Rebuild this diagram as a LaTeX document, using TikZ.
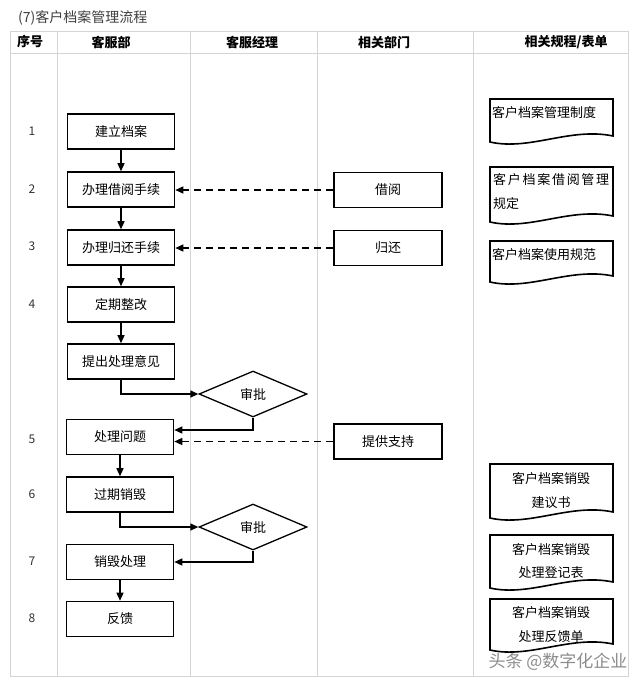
\documentclass[tikz,border=0pt]{standalone}
\usepackage{fontspec}
\setmainfont{Noto Sans CJK SC}
\usetikzlibrary{arrows.meta,shapes.geometric}

% document symbol of the flow chart: top y, lower left y
\newcommand\docsheet[2]{%
  \draw[sheet] (490,#1) -- (613,#1) -- (613,#2-6)
     .. controls (570,#2-15) and (530,#2+9) .. (490,#2) -- cycle;}

\begin{document}
\begin{tikzpicture}[x=1pt,y=-1pt,
   every node/.style={font=\fontsize{13}{16}\selectfont,inner sep=0pt},
   grid line/.style={draw=black!17,line width=0.9pt},
   head/.style={font=\fontsize{13}{16}\selectfont\bfseries},
   rownum/.style={font=\fontsize{12}{14}\selectfont,text=black!80},
   task/.style={draw,line width=1.6pt,minimum width=107pt,minimum height=35pt},
   check/.style={draw,diamond,aspect=2.35,line width=1.3pt,
      minimum width=108pt,minimum height=46pt},
   flow/.style={line width=1.3pt,-{Triangle[length=8pt,width=7pt]}},
   ask/.style={flow,dash pattern=on 7pt off 5pt},
   sheet/.style={line width=1.6pt},
   sheettext/.style={align=center,font=\fontsize{13}{24}\selectfont}]
\fill[white] (0,0) rectangle (640,686);
\useasboundingbox (0,0) rectangle (640,686);

\node[anchor=west,font=\fontsize{14}{16}\selectfont,text=black!75] (title) at (18,18) {(7)客户档案管理流程};

% table
\draw[grid line] (10,31) rectangle (628,676);
\draw[grid line] (10,53) -- (628,53);
\foreach \x in {57,190,317,473}
  \draw[grid line] (\x,31) -- (\x,676);

\node[head] (hno) at (30,42) {序号};
\node[head] (hcs) at (111,42) {客服部};
\node[head] (hmgr) at (252,42) {客服经理};
\node[head] (hdept) at (384,42) {相关部门};
\node[head] (hdoc) at (566,42) {相关规程/表单};

\foreach \n/\y in {1/131,2/189,3/246,4/304,5/439,6/494,7/561,8/618}
  \node[rownum] (n\n) at (32,\y) {\n};

% customer service
\node[task] (open) at (121,131.5) {建立档案};
\node[task] (lend) at (121,189.5) {办理借阅手续};
\node[task] (back) at (121,247.5) {办理归还手续};
\node[task] (fix) at (121,304.5) {定期整改};
\node[task] (idea) at (121,361.5) {提出处理意见};
\node[task] (solve) at (120,437) {处理问题};
\node[task] (expire) at (120,494.5) {过期销毁};
\node[task] (destroy) at (120,562) {销毁处理};
\node[task] (feedback) at (120,619) {反馈};

% manager
\node[check] (ok1) at (253,394) {审批};
\node[check] (ok2) at (253,527) {审批};

% other departments
\node[task,minimum width=108pt] (borrow) at (388,190) {借阅};
\node[task,minimum width=108pt] (return) at (388,248) {归还};
\node[task,minimum width=108pt] (support) at (388,441.5) {提供支持};

\draw[flow] (open) -- (lend);
\draw[flow] (lend) -- (back);
\draw[flow] (back) -- (fix);
\draw[flow] (fix) -- (idea);
\draw[flow] (idea.south) |- (ok1.west);
\draw[flow] (ok1.south) |- ([yshift=7pt]solve.east);
\draw[flow] (solve) -- (expire);
\draw[flow] (expire.south) |- (ok2.west);
\draw[flow] (ok2.south) |- (destroy.east);
\draw[flow] (destroy) -- (feedback);
\draw[ask] (borrow.west) -- (borrow.west -| lend.east);
\draw[ask] (return.west) -- (return.west -| back.east);
\draw[ask] (support.west) -- (support.west -| solve.east);

% rules and forms
\docsheet{99}{142}
\docsheet{167}{222}
\docsheet{241}{282}
\docsheet{464}{518}
\docsheet{535}{588}
\docsheet{599}{650}
\node[anchor=west] (rule1) at (492,113) {客户档案管理制度};
\node[anchor=north west,align=left,font=\fontsize{13}{24}\selectfont] (rule2) at (493,173)
  {\hbox to 116pt{客\hfill 户\hfill 档\hfill 案\hfill 借\hfill 阅\hfill 管\hfill 理}\\规定};
\node[anchor=west] (rule3) at (492,255) {客户档案使用规范};
\node[sheettext] (form1) at (551,491) {客户档案销毁\\建议书};
\node[sheettext] (form2) at (551,561) {客户档案销毁\\处理登记表};
\node[sheettext] (form3) at (551,625) {客户档案销毁\\处理反馈单};

\node[text=black!45,font=\fontsize{17}{18}\selectfont] (mark) at (558,662) {头条 @数字化企业};
\end{tikzpicture}
\end{document}
